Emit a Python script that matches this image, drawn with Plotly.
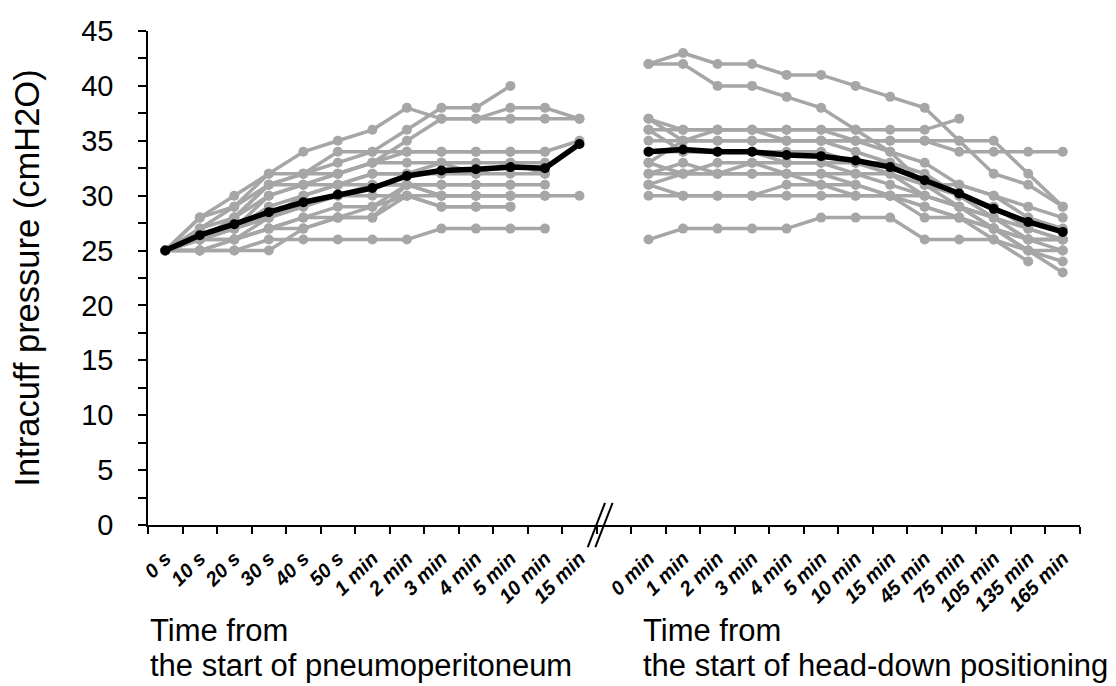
import plotly.graph_objects as go

# ---------------- data ----------------
left_labels = ["0 s", "10 s", "20 s", "30 s", "40 s", "50 s", "1 min", "2 min",
               "3 min", "4 min", "5 min", "10 min", "15 min"]
right_labels = ["0 min", "1 min", "2 min", "3 min", "4 min", "5 min", "10 min",
                "15 min", "45 min", "75 min", "105 min", "135 min", "165 min"]
gap_label = ""

N = None
# individual patients, pneumoperitoneum phase
left_patients = [
    [25, 28, 30, 32, 34, 35, 36, 38, 37, 37, 37, 37, 37],
    [25, 27, 28, 31, 32, 33, 34, 36, 38, 38, 40, N, N],
    [25, 26, 28, 30, 31, 32, 33, 35, 37, 37, 38, 38, 37],
    [25, 28, 29, 32, 32, 34, 34, 34, 34, 34, 34, 34, 35],
    [25, 27, 29, 31, 32, 32, 33, 34, 34, 34, 34, 34, N],
    [25, 26, 27, 30, 31, 32, 33, 33, 33, 33, 33, 33, N],
    [25, 26, 28, 31, 31, 31, 32, 32, 33, 32, 33, 32, N],
    [25, 26, 27, 29, 30, 31, 32, 32, 32, 32, 32, 32, N],
    [25, 26, 27, 28, 29, 30, 31, 31, 31, 31, 31, 31, N],
    [25, 25, 26, 28, 30, 31, 31, 31, 30, 30, 30, 30, 30],
    [25, 26, 27, 28, 29, 30, 30, 30, 30, 30, 30, N, N],
    [25, 26, 26, 27, 28, 28, 29, 30, 29, 29, 29, N, N],
    [25, 25, 25, 25, 27, 28, 28, 30, 29, 29, 29, N, N],
    [25, 25, 25, 26, 26, 26, 26, 26, 27, 27, 27, 27, N],
    [25, 26, 26, 27, 28, 29, 29, 31, 31, 31, 31, N, N],
    [25, 25, 26, 27, 27, 28, 28, 31, 30, 30, 30, 30, N],
]
# individual patients, head-down phase
right_patients = [
    [42, 43, 42, 42, 41, 41, 40, 39, 38, 35, 32, 31, 29],
    [42, 42, 40, 40, 39, 38, 36, 34, 31, 29, 27, 26, 25],
    [37, 36, 36, 36, 36, 36, 36, 36, 36, 37, N, N, N],
    [37, 35, 35, 35, 35, 35, 34, 33, 31, 30, 28, 26, 26],
    [36, 36, 36, 36, 36, 36, 35, 35, 35, 34, 34, 34, 34],
    [35, 35, 35, 35, 35, 35, 35, 35, 35, 35, 35, 32, 29],
    [33, 35, 36, 36, 35, 35, 35, 34, 33, 31, 30, 29, 28],
    [33, 32, 32, 33, 33, 33, 32, 32, 31, 31, 30, 28, 27],
    [32, 32, 32, 32, 32, 32, 32, 31, 30, 29, 28, 26, 26],
    [32, 33, 32, 32, 32, 32, 31, 30, 30, 29, 27, 25, 25],
    [31, 30, 30, 30, 31, 31, 30, 30, 29, 28, 27, 26, 26],
    [30, 30, 30, 30, 30, 30, 30, 30, 28, 28, 26, 25, 23],
    [26, 27, 27, 27, 27, 28, 28, 28, 26, 26, 26, 24, N],
    [34, 34, 34, 34, 34, 34, 33, 33, 32, 30, 29, 27, 26],
    [36, 34, 34, 34, 33, 33, 33, 32, 30, 29, 28, 27, 26],
    [31, 32, 33, 33, 32, 31, 31, 30, 29, 28, 27, 25, 24],
]
# mean values
left_mean = [25, 26.4, 27.4, 28.5, 29.4, 30.1, 30.7, 31.8, 32.3, 32.4, 32.6, 32.5, 34.7]
right_mean = [34.0, 34.2, 34.0, 34.0, 33.7, 33.6, 33.2, 32.6, 31.4, 30.2, 28.8, 27.6, 26.7]

y_ticks = [0, 5, 10, 15, 20, 25, 30, 35, 40, 45]

# ---------------- positions ----------------
all_labels = left_labels + [gap_label] + right_labels
x_left = list(range(len(left_labels)))
x_right = list(range(len(left_labels) + 1, len(all_labels)))
x_all = list(range(len(all_labels)))

GREY = "#a6a6a6"
fig = go.Figure()

for p in left_patients:
    fig.add_trace(go.Scatter(x=x_left, y=p, mode="lines+markers",
                             line=dict(color=GREY, width=3.5),
                             marker=dict(color=GREY, size=10),
                             connectgaps=False, hoverinfo="skip"))
for p in right_patients:
    fig.add_trace(go.Scatter(x=x_right, y=p, mode="lines+markers",
                             line=dict(color=GREY, width=3.5),
                             marker=dict(color=GREY, size=10),
                             connectgaps=False, hoverinfo="skip"))

for xs, ys in ((x_left, left_mean), (x_right, right_mean)):
    fig.add_trace(go.Scatter(x=xs, y=ys, mode="lines+markers",
                             line=dict(color="black", width=5.5),
                             marker=dict(color="black", size=10)))

font_family = "Liberation Sans, Arial, sans-serif"

# the page body has an 8px default margin, so the figure is drawn 8px smaller
fig.update_layout(
    width=1108, height=678,
    margin=dict(l=140, r=36, t=23, b=161, autoexpand=False),
    paper_bgcolor="white", plot_bgcolor="white",
    showlegend=False,
    font=dict(family=font_family, color="black"),
)

fig.update_xaxes(
    automargin=False,
    range=[-0.5, len(all_labels) - 0.5],
    tickmode="array", tickvals=x_all, ticktext=all_labels,
    ticks="", tickangle=-45, ticklabelstandoff=12,
    tickfont=dict(family=font_family, size=20, weight="bold", style="italic", color="black"),
    showline=True, linecolor="black", linewidth=1.5,
    showgrid=False, zeroline=False,
    minor=dict(tickvals=[i - 0.5 for i in range(len(all_labels) + 1)],
               ticks="outside", ticklen=7, tickcolor="black", tickwidth=1.5,
               showgrid=False),
)
fig.update_yaxes(
    automargin=False,
    range=[0, 45],
    tickmode="array", tickvals=y_ticks,
    ticks="outside", ticklen=8, tickwidth=1.5, tickcolor="black",
    ticklabelstandoff=19,
    tickfont=dict(family=font_family, size=29, color="black"),
    showline=True, linecolor="black", linewidth=1.5,
    showgrid=False, zeroline=False,
    minor=dict(dtick=2.5, ticks="outside", ticklen=8, tickcolor="black",
               tickwidth=1.5, showgrid=False),
    title=dict(text="Intracuff pressure (cmH2O)",
               font=dict(family=font_family, size=34.5, color="black"),
               standoff=36),
)

# axis break marks "//"
brk = len(left_labels) - 0.5
for dx in (0.0, 0.22):
    fig.add_shape(type="line", xref="x", yref="paper",
                  x0=brk - 0.26 + dx, x1=brk + 0.24 + dx, y0=-0.045, y1=0.045,
                  line=dict(color="black", width=2))

# bottom captions
for xp, lines in ((0.0, ["Time from", "the start of pneumoperitoneum"]),
                  (0.529, ["Time from", "the start of head-down positioning"])):
    for i, t in enumerate(lines):
        fig.add_annotation(text=t, xref="paper", yref="paper",
                           x=xp, y=-0.213 - i * 0.071, xanchor="left", yanchor="middle",
                           showarrow=False,
                           font=dict(family=font_family, size=31, color="black"))

fig.write_html("out.html")
